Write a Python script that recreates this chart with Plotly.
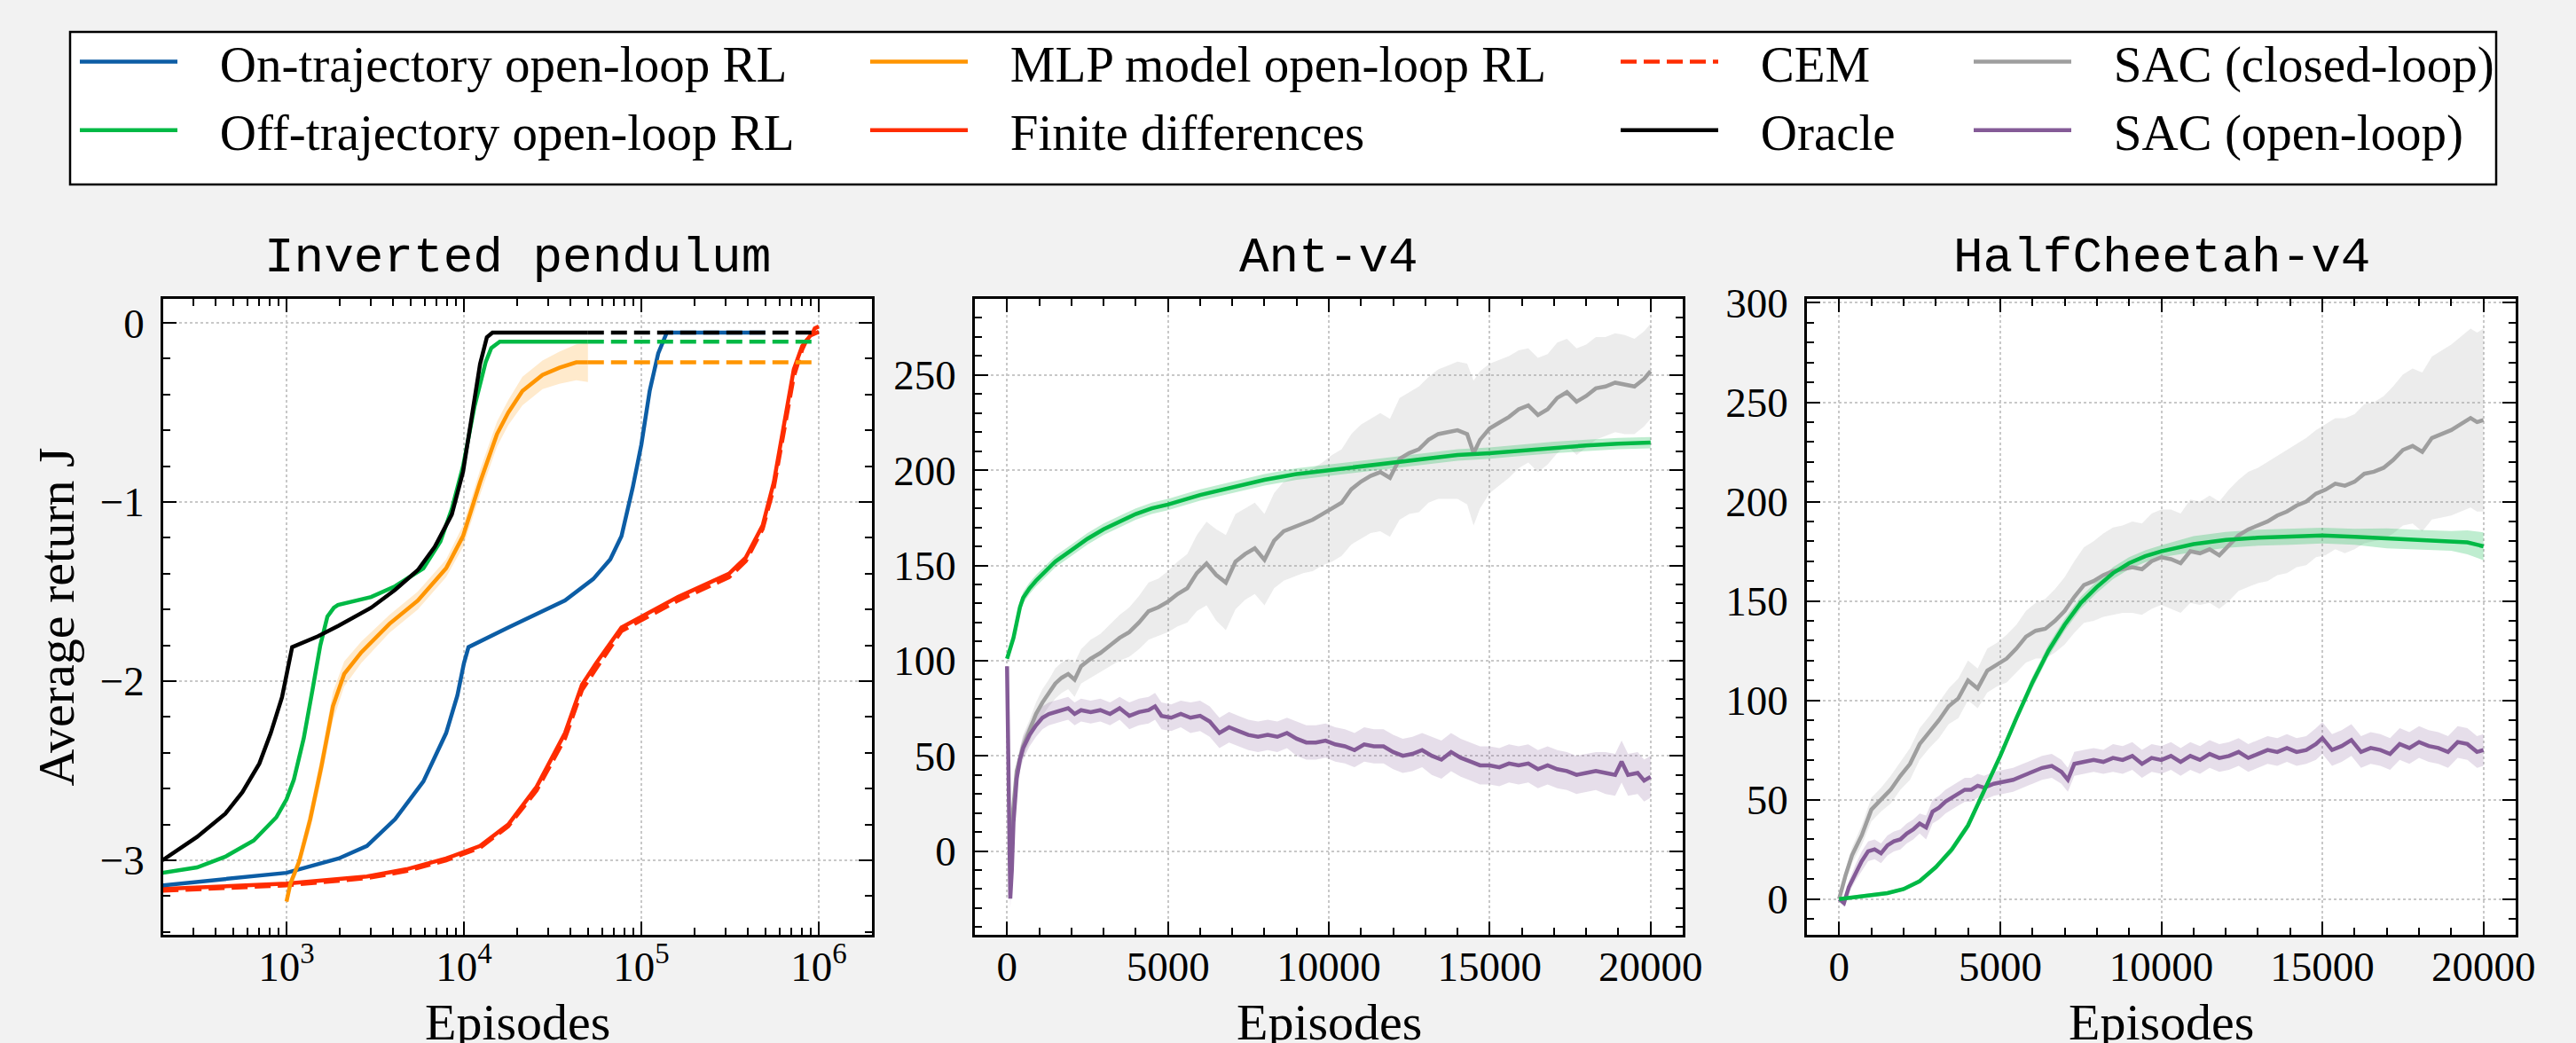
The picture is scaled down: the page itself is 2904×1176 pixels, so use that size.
import plotly.graph_objects as go

W, H = 2904, 1176

# ---------------- Panel 1: Inverted pendulum (log x) ----------------
oracle_x = [200, 313, 452, 564, 703, 815, 943, 1015, 1076, 1500, 1966, 3000, 4097, 5500, 6850, 8540, 9890, 11045, 12330, 13470, 14490, 20000, 50000]
oracle_y = [-3.00, -2.87, -2.74, -2.62, -2.46, -2.29, -2.09, -1.93, -1.81, -1.75, -1.69, -1.59, -1.49, -1.38, -1.25, -1.07, -0.83, -0.53, -0.23, -0.08, -0.054, -0.054, -0.054]
oracle_ext_x = [50000, 1000000]
oracle_ext_y = [-0.054, -0.054]

off_x = [200, 313, 452, 653, 876, 1000, 1100, 1250, 1400, 1550, 1700, 1850, 1950, 3000, 4097, 5907, 7367, 8540, 9890, 11450, 13250, 14260, 15930, 20000, 50000]
off_y = [-3.07, -3.04, -2.98, -2.89, -2.76, -2.66, -2.55, -2.32, -2.05, -1.80, -1.64, -1.59, -1.575, -1.53, -1.47, -1.37, -1.22, -1.04, -0.80, -0.47, -0.22, -0.14, -0.105, -0.105, -0.105]
off_ext_x = [50000, 1000000]
off_ext_y = [-0.105, -0.105]

mlp_x = [1000, 1052, 1175, 1361, 1577, 1826, 2114, 2635, 3805, 5495, 7936, 9890, 12330, 15370, 17790, 21380, 27730, 34520, 42970, 50000]
mlp_y = [-3.23, -3.13, -3.01, -2.77, -2.47, -2.14, -1.96, -1.84, -1.68, -1.55, -1.37, -1.19, -0.89, -0.62, -0.50, -0.38, -0.29, -0.25, -0.22, -0.22]
mlp_sd = [0.02, 0.03, 0.04, 0.06, 0.07, 0.08, 0.07, 0.06, 0.05, 0.05, 0.05, 0.06, 0.07, 0.07, 0.07, 0.08, 0.08, 0.09, 0.10, 0.11]
mlp_ext_x = [50000, 1000000]
mlp_ext_y = [-0.22, -0.22]

on_x = [200, 1000, 1966, 2839, 4097, 5907, 7936, 9185, 10000, 10610, 17790, 37120, 53540, 66790, 77280, 89410, 100000, 111400, 124500, 139200, 500000]
on_y = [-3.14, -3.07, -2.99, -2.92, -2.77, -2.56, -2.29, -2.08, -1.90, -1.81, -1.70, -1.55, -1.43, -1.32, -1.19, -0.92, -0.68, -0.38, -0.17, -0.054, -0.054]

fd_x = [200, 1000, 2839, 4747, 7936, 12330, 17790, 25680, 37120, 46290, 55620, 77280, 161000, 312000, 388000, 483000, 558000, 647000, 723000, 806000, 899000, 1000000]
fd_y = [-3.16, -3.13, -3.09, -3.05, -2.99, -2.92, -2.80, -2.59, -2.29, -2.02, -1.90, -1.70, -1.53, -1.40, -1.31, -1.13, -0.89, -0.53, -0.26, -0.13, -0.07, -0.05]

cem_x = [200, 1000, 2839, 4747, 7936, 12330, 17790, 25680, 37120, 46290, 55620, 77280, 161000, 312000, 388000, 483000, 558000, 647000, 723000, 806000, 850000, 899000, 950000, 1000000]
cem_y = [-3.17, -3.14, -3.10, -3.06, -3.00, -2.93, -2.81, -2.61, -2.32, -2.05, -1.93, -1.72, -1.55, -1.42, -1.33, -1.15, -0.92, -0.57, -0.30, -0.15, -0.10, -0.08, -0.03, -0.02]

# ---------------- Panel 2: Ant-v4 ----------------
ant_green_x = [0, 100, 200, 300, 400, 500, 700, 900, 1200, 1500, 2000, 2500, 3000, 3500, 4000, 4500, 5000, 6000, 7000, 8000, 9000, 10000, 11000, 12000, 13000, 14000, 15000, 16000, 17000, 18000, 19000, 20000]
ant_green_y = [101, 106, 112, 120, 128, 133, 138, 142, 147, 152, 158, 164, 169, 173, 177, 180, 182, 187, 191, 195, 198, 200, 202, 204, 206, 208, 209, 210.5, 212, 213, 214, 214.5]
ant_green_sd = [1, 2, 2, 3, 3, 3, 3, 3, 3, 3, 3, 3, 3, 3, 3, 3, 3, 3, 3, 3, 3, 3, 3, 3, 3, 3, 3, 3, 3, 3, 3, 3]

ant_sacc_x = [100, 300, 500, 700, 900, 1100, 1300, 1500, 1700, 1900, 2100, 2300, 2600, 2900, 3200, 3500, 3800, 4100, 4400, 4700, 5000, 5300, 5600, 5900, 6200, 6500, 6800, 7100, 7400, 7700, 8000, 8300, 8600, 8900, 9200, 9500, 9800, 10100, 10400, 10700, 11000, 11300, 11600, 11900, 12200, 12500, 12800, 13100, 13400, 13700, 14000, 14300, 14500, 14700, 15000, 15300, 15600, 15900, 16200, 16500, 16800, 17100, 17400, 17700, 18000, 18300, 18600, 18900, 19200, 19500, 19800, 20000]
ant_sacc_y = [5, 42, 55, 63, 72, 78, 83, 88, 91, 93, 90, 97, 101, 104, 108, 112, 115, 120, 126, 128, 131, 135, 138, 146, 151, 145, 141, 152, 156, 159, 153, 163, 168, 170, 172, 174, 177, 180, 183, 190, 194, 197, 199, 196, 206, 209, 211, 216, 219, 220, 221, 219, 209, 216, 222, 225, 228, 232, 234, 229, 232, 238, 241, 236, 239, 243, 244, 246, 245, 244, 248, 252]
ant_sacc_sd = [4, 5, 6, 6, 6, 7, 7, 8, 8, 8, 9, 9, 10, 10, 11, 12, 13, 14, 15, 15, 16, 17, 18, 20, 22, 24, 25, 25, 24, 24, 24, 25, 26, 26, 26, 27, 27, 28, 28, 29, 30, 30, 31, 31, 32, 32, 33, 33, 34, 35, 36, 37, 38, 36, 34, 33, 32, 31, 30, 30, 29, 29, 28, 28, 27, 27, 26, 26, 26, 25, 25, 25]

ant_saco_x = [0, 50, 100, 150, 200, 300, 400, 500, 700, 900, 1100, 1300, 1500, 1700, 1900, 2100, 2300, 2600, 2900, 3200, 3500, 3800, 4100, 4400, 4600, 4800, 5100, 5400, 5700, 6000, 6300, 6600, 6900, 7200, 7500, 7800, 8100, 8400, 8700, 9000, 9300, 9600, 9900, 10200, 10500, 10800, 11100, 11400, 11700, 12000, 12300, 12600, 12900, 13200, 13500, 13800, 14100, 14400, 14700, 15000, 15300, 15600, 15900, 16200, 16500, 16800, 17100, 17400, 17700, 18000, 18300, 18600, 18900, 19100, 19300, 19600, 19800, 20000]
ant_saco_y = [97, 20, -25, -10, 15, 38, 48, 54, 61, 66, 70, 72, 73, 74, 75, 72, 74, 73, 74, 72, 75, 71, 73, 74, 76, 71, 70, 72, 70, 71, 68, 62, 65, 63, 61, 60, 61, 60, 62, 59, 57, 57, 58, 56, 55, 53, 56, 55, 55, 52, 50, 51, 53, 50, 48, 52, 49, 47, 45, 45, 44, 46, 45, 46, 43, 45, 43, 42, 40, 41, 42, 41, 40, 47, 40, 41, 37, 39]
ant_saco_sd = [2, 4, 5, 5, 5, 6, 6, 6, 6, 6, 6, 6, 6, 6, 6, 6, 6, 6, 6, 6, 6, 7, 7, 7, 7, 7, 7, 7, 8, 8, 8, 8, 8, 8, 8, 8, 8, 8, 8, 9, 9, 9, 9, 9, 9, 9, 9, 9, 9, 9, 9, 9, 9, 10, 10, 10, 10, 10, 10, 10, 10, 10, 10, 10, 10, 10, 10, 10, 10, 10, 10, 11, 11, 11, 11, 11, 11, 11]

# ---------------- Panel 3: HalfCheetah-v4 ----------------
hc_green_x = [0, 500, 1000, 1500, 2000, 2500, 3000, 3500, 4000, 4500, 5000, 5500, 6000, 6500, 7000, 7500, 8000, 8500, 9000, 9500, 10000, 11000, 12000, 13000, 14000, 15000, 16000, 17000, 18000, 19000, 19500, 20000]
hc_green_y = [0, 1, 2, 3, 5, 9, 16, 25, 37, 54, 72, 91, 109, 125, 138, 149, 157, 164, 169, 172.5, 175, 178.6, 180.7, 181.8, 182.3, 182.9, 182.3, 181.5, 180.7, 180.2, 179.5, 177.5]
hc_green_sd = [0.5, 1, 1, 1, 1, 1, 1, 2, 2, 2, 2, 2, 3, 3, 3, 3, 3, 3, 3, 3, 3, 4, 4, 4, 4, 4, 4, 5, 5, 5, 6, 7]

hc_sacc_x = [0, 200, 400, 700, 1000, 1300, 1600, 1900, 2200, 2500, 2800, 3100, 3400, 3700, 4000, 4300, 4600, 4900, 5200, 5500, 5800, 6100, 6400, 6700, 7000, 7300, 7600, 7900, 8200, 8500, 8800, 9100, 9400, 9700, 10000, 10300, 10600, 10900, 11200, 11500, 11800, 12100, 12400, 12700, 13000, 13300, 13600, 13900, 14200, 14500, 14800, 15100, 15400, 15700, 16000, 16300, 16600, 16900, 17200, 17500, 17800, 18100, 18400, 18700, 19000, 19300, 19600, 19800, 20000]
hc_sacc_y = [0, 12, 22, 32, 45, 50, 55, 62, 68, 78, 84, 90, 97, 101, 110, 106, 115, 118, 121, 126, 132, 135, 136, 140, 145, 152, 158, 160, 163, 165, 166, 167, 166, 170, 172, 171, 169, 175, 174, 176, 173, 178, 183, 186, 188, 190, 193, 195, 198, 200, 204, 206, 209, 208, 210, 214, 215, 217, 221, 226, 228, 225, 232, 234, 236, 239, 242, 240, 241]
hc_sacc_sd = [1, 3, 4, 5, 6, 6, 7, 7, 8, 8, 8, 9, 9, 10, 10, 10, 11, 11, 12, 12, 13, 14, 15, 16, 17, 18, 19, 20, 21, 22, 22, 23, 23, 24, 24, 25, 25, 26, 26, 27, 27, 28, 28, 29, 29, 30, 30, 31, 31, 32, 32, 33, 33, 34, 34, 35, 35, 36, 37, 38, 39, 40, 41, 42, 43, 44, 45, 45, 46]

hc_saco_x = [0, 150, 300, 500, 700, 900, 1100, 1300, 1500, 1700, 1900, 2100, 2300, 2500, 2700, 2900, 3100, 3300, 3500, 3700, 3900, 4100, 4300, 4500, 4800, 5100, 5400, 5700, 6000, 6300, 6600, 6900, 7100, 7300, 7600, 7900, 8200, 8500, 8800, 9100, 9400, 9700, 10000, 10300, 10600, 10900, 11200, 11500, 11800, 12100, 12400, 12700, 13000, 13300, 13600, 13900, 14200, 14500, 14800, 15000, 15300, 15600, 15900, 16200, 16500, 16800, 17100, 17400, 17700, 18000, 18300, 18600, 18900, 19200, 19500, 19800, 20000]
hc_saco_y = [0, -2, 6, 13, 19, 24, 25, 23, 27, 29, 30, 33, 35, 38, 36, 44, 46, 49, 51, 53, 55, 55, 57, 56, 58, 59, 60, 62, 64, 66, 67, 64, 60, 68, 69, 70, 69, 71, 70, 72, 68, 71, 70, 72, 69, 72, 70, 73, 71, 72, 74, 71, 73, 75, 74, 76, 74, 75, 78, 81, 75, 77, 80, 74, 76, 75, 73, 78, 76, 79, 77, 76, 74, 79, 78, 74, 75]
hc_saco_sd = [1, 2, 3, 4, 5, 5, 5, 5, 5, 5, 5, 5, 5, 5, 6, 6, 6, 6, 6, 6, 6, 6, 6, 6, 6, 6, 6, 6, 6, 6, 6, 6, 6, 6, 6, 6, 6, 7, 7, 7, 7, 7, 7, 7, 7, 7, 7, 7, 7, 7, 7, 7, 7, 7, 7, 7, 7, 7, 8, 8, 8, 8, 8, 8, 8, 8, 8, 8, 8, 8, 8, 8, 8, 8, 8, 8, 8]

# ---------------- axis ticks ----------------
log_major = [1e3, 1e4, 1e5, 1e6]
log_major_text = ["10<sup>3</sup>", "10<sup>4</sup>", "10<sup>5</sup>", "10<sup>6</sup>"]
log_minor = [m * 10 ** e for e in range(2, 7) for m in range(2, 10)]

BLUE = "#0C5DA5"
GREEN = "#00B945"
ORANGE = "#FF9500"
RED = "#FF2C00"
PURPLE = "#845B97"
GRAY = "#9e9e9e"
BLACK = "#000000"

SERIF = "Liberation Serif"
MONO = "Liberation Mono"
LW = 4.5
PAD = "\u00a0\u00a0\u00a0"


def rgba(hexc, a):
    h = hexc.lstrip("#")
    return "rgba(%d,%d,%d,%.2f)" % (int(h[0:2], 16), int(h[2:4], 16), int(h[4:6], 16), a)


fig = go.Figure()


def band(x, y, sd, color, xa, ya, alpha=0.2):
    up = [a + b for a, b in zip(y, sd)]
    lo = [a - b for a, b in zip(y, sd)]
    fig.add_trace(go.Scatter(x=list(x) + list(x)[::-1], y=up + lo[::-1], fill="toself",
                             fillcolor=rgba(color, alpha), line=dict(width=0), mode="lines",
                             showlegend=False, hoverinfo="skip", xaxis=xa, yaxis=ya))


def line(x, y, color, xa, ya, name=None, legend=None, rank=None, dash=None, show=False):
    fig.add_trace(go.Scatter(x=x, y=y, mode="lines", name=(PAD + name) if name else None,
                             line=dict(color=color, width=LW, dash=dash),
                             showlegend=show, legend=legend, legendrank=rank,
                             xaxis=xa, yaxis=ya))


DASH = "18px,8px"

# Panel 1
band(mlp_x, mlp_y, mlp_sd, ORANGE, "x", "y", 0.2)
line(fd_x, fd_y, RED, "x", "y", "Finite differences", "legend2", 2, show=True)
line(cem_x, cem_y, RED, "x", "y", "CEM", "legend3", 1, dash=DASH, show=True)
line(on_x, on_y, BLUE, "x", "y", "On-trajectory open-loop RL", "legend", 1, show=True)
line(mlp_x, mlp_y, ORANGE, "x", "y", "MLP model open-loop RL", "legend2", 1, show=True)
line(mlp_ext_x, mlp_ext_y, ORANGE, "x", "y", dash=DASH)
line(off_x, off_y, GREEN, "x", "y", "Off-trajectory open-loop RL", "legend", 2, show=True)
line(off_ext_x, off_ext_y, GREEN, "x", "y", dash=DASH)
line(oracle_x, oracle_y, BLACK, "x", "y", "Oracle", "legend3", 2, show=True)
line(oracle_ext_x, oracle_ext_y, BLACK, "x", "y", dash=DASH)

# Panel 2
band(ant_sacc_x, ant_sacc_y, ant_sacc_sd, GRAY, "x2", "y2", 0.2)
band(ant_saco_x, ant_saco_y, ant_saco_sd, PURPLE, "x2", "y2", 0.2)
band(ant_green_x, ant_green_y, ant_green_sd, GREEN, "x2", "y2", 0.25)
line(ant_sacc_x, ant_sacc_y, GRAY, "x2", "y2", "SAC (closed-loop)", "legend4", 1, show=True)
line(ant_saco_x, ant_saco_y, PURPLE, "x2", "y2", "SAC (open-loop)", "legend4", 2, show=True)
line(ant_green_x, ant_green_y, GREEN, "x2", "y2")

# Panel 3
band(hc_sacc_x, hc_sacc_y, hc_sacc_sd, GRAY, "x3", "y3", 0.2)
band(hc_saco_x, hc_saco_y, hc_saco_sd, PURPLE, "x3", "y3", 0.2)
band(hc_green_x, hc_green_y, hc_green_sd, GREEN, "x3", "y3", 0.25)
line(hc_sacc_x, hc_sacc_y, GRAY, "x3", "y3")
line(hc_saco_x, hc_saco_y, PURPLE, "x3", "y3")
line(hc_green_x, hc_green_y, GREEN, "x3", "y3")

ydom = [1 - 1054 / H, 1 - 337 / H]
TICKF = dict(family=SERIF, size=47, color="black")
TITLEF = dict(family=SERIF, size=58, color="black")
MINOR = dict(ticks="inside", ticklen=8, tickwidth=2, tickcolor="black", showgrid=False)
XSTAND = -7


def axis_common():
    return dict(showline=True, linecolor="black", linewidth=2.5, mirror="ticks",
                ticks="inside", ticklen=15, tickwidth=2, tickcolor="black",
                showgrid=True, gridcolor="#c8c8c8", griddash="dot", gridwidth=2,
                zeroline=False, tickfont=TICKF)


xa1 = axis_common()
xa1.update(type="log", domain=[184 / W, 983 / W], range=[2.305, 6.3], anchor="y",
           tickmode="array", tickvals=log_major, ticktext=log_major_text, ticklabelstandoff=XSTAND,
           minor=dict(tickmode="array", tickvals=log_minor, **MINOR))
ya1 = axis_common()
ya1.update(domain=ydom, range=[-3.416, 0.134], anchor="x", tick0=0, dtick=1, ticklabelstandoff=9,
           minor=dict(dtick=0.2, **MINOR),
           title=dict(text="Average return J", font=TITLEF, standoff=11))

xa2 = axis_common()
xa2.update(domain=[1099 / W, 1897 / W], range=[-1000, 21000], anchor="y2", tick0=0, dtick=5000,
           tickformat="d", ticklabelstandoff=XSTAND,
           minor=dict(dtick=1000, **MINOR))
ya2 = axis_common()
ya2.update(domain=ydom, range=[-44, 290], anchor="x2", tick0=0, dtick=50, ticklabelstandoff=9,
           minor=dict(dtick=10, **MINOR))

xa3 = axis_common()
xa3.update(domain=[2037 / W, 2836 / W], range=[-1000, 21000], anchor="y3", tick0=0, dtick=5000,
           tickformat="d", ticklabelstandoff=XSTAND,
           minor=dict(dtick=1000, **MINOR))
ya3 = axis_common()
ya3.update(domain=ydom, range=[-18, 302], anchor="x3", tick0=0, dtick=50, ticklabelstandoff=9,
           minor=dict(dtick=10, **MINOR))

LEGF = dict(family=SERIF, size=57, color="black")
leg_y = 1 - 26 / H


def legend_at(px):
    return dict(x=(px - 13) / W, y=leg_y, xanchor="left", yanchor="top", orientation="v",
                bgcolor="rgba(0,0,0,0)", borderwidth=0, font=LEGF, itemwidth=110,
                tracegroupgap=0, traceorder="normal")


centers = [(184 + 983) / 2, (1099 + 1897) / 2, (2037 + 2836) / 2]
titles = ["Inverted pendulum", "Ant-v4", "HalfCheetah-v4"]
annotations = [dict(text=t, x=cx / W, y=1 - 291 / H, xref="paper", yref="paper",
                    xanchor="center", yanchor="middle", showarrow=False,
                    font=dict(family=MONO, size=56, color="black")) for t, cx in zip(titles, centers)]
annotations += [dict(text="Episodes", x=cx / W, y=1 - 1152 / H, xref="paper", yref="paper",
                     xanchor="center", yanchor="middle", showarrow=False, font=TITLEF)
                for cx in centers]

fig.update_layout(
    width=W, height=H,
    margin=dict(l=0, r=0, t=0, b=0, autoexpand=False),
    paper_bgcolor="#f2f2f2", plot_bgcolor="white",
    font=dict(family=SERIF, color="black"),
    xaxis=xa1, yaxis=ya1, xaxis2=xa2, yaxis2=ya2, xaxis3=xa3, yaxis3=ya3,
    legend=legend_at(98), legend2=legend_at(989), legend3=legend_at(1835), legend4=legend_at(2233),
    annotations=annotations,
    shapes=[dict(type="rect", xref="paper", yref="paper", x0=79 / W, x1=2814 / W,
                 y0=1 - 208 / H, y1=1 - 36 / H, line=dict(color="black", width=2.5),
                 fillcolor="white", layer="below")],
    showlegend=True,
)

fig.write_html("out.html", config={"displayModeBar": False},
               post_script="document.body.style.margin='0';")
